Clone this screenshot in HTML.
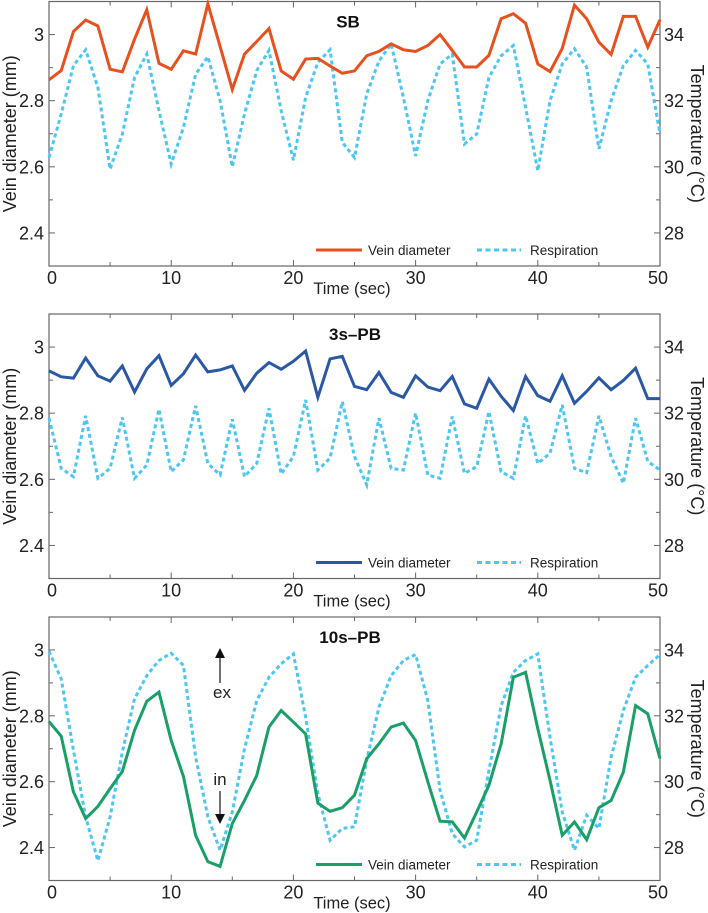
<!DOCTYPE html>
<html><head><meta charset="utf-8">
<style>
html,body{margin:0;padding:0;background:#fff;}
svg{display:block;font-family:"Liberation Sans",Arial,sans-serif;}
</style></head>
<body>
<svg id="chart" width="708" height="913" viewBox="0 0 708 913" xmlns="http://www.w3.org/2000/svg"></svg>
<script>
const times = Array.from({length:51},(_,i)=>i);
const xTickLabels = ["0","10","20","30","40","50"];
const yTickLabels = ["2.4","2.6","2.8","3"];
const tTickLabels = ["28","30","32","34"];
const panelTitles = ["SB","3s\u2013PB","10s\u2013PB"];
const veinSB = [2.863,2.891,3.009,3.044,3.026,2.895,2.887,2.986,3.075,2.913,2.895,2.951,2.941,3.093,2.964,2.834,2.941,2.979,3.018,2.890,2.865,2.926,2.928,2.905,2.883,2.890,2.936,2.949,2.972,2.954,2.949,2.967,3.000,2.952,2.902,2.902,2.937,3.048,3.063,3.034,2.911,2.888,2.958,3.089,3.048,2.977,2.940,3.055,3.055,2.962,3.045];
const respSB = [30.28,31.6,33.06,33.54,32.4,29.93,30.99,32.7,33.41,31.7,30.08,31.19,32.8,33.33,32.0,30.0,31.6,32.91,33.52,31.7,30.2,32.1,33.16,33.54,30.74,30.28,32.2,33.2,33.72,32.1,30.33,32.0,33.11,33.41,30.69,30.99,32.7,33.36,33.67,31.8,29.88,32.0,33.11,33.57,33.01,30.54,32.0,33.06,33.52,33.11,30.99];
const vein3s = [2.928,2.910,2.906,2.967,2.913,2.897,2.943,2.864,2.934,2.974,2.884,2.919,2.976,2.925,2.931,2.943,2.869,2.921,2.953,2.933,2.957,2.988,2.848,2.964,2.972,2.881,2.871,2.923,2.863,2.848,2.913,2.879,2.868,2.911,2.828,2.815,2.903,2.851,2.808,2.911,2.853,2.836,2.913,2.830,2.866,2.907,2.871,2.899,2.936,2.844,2.844];
const resp3s = [31.85,30.33,30.08,31.92,30.03,30.33,31.87,30.03,30.43,32.12,30.23,30.59,32.22,30.48,30.13,31.82,30.08,30.48,32.15,30.16,30.69,32.40,30.28,30.64,32.35,30.69,29.83,31.85,30.33,30.28,32.0,30.13,30.03,31.9,30.18,30.38,32.05,30.23,30.03,31.92,30.48,30.79,32.25,30.33,30.2,31.92,30.69,29.88,31.85,30.54,30.28];
const vein10s = [2.783,2.738,2.569,2.488,2.525,2.579,2.631,2.756,2.844,2.872,2.725,2.616,2.437,2.357,2.343,2.473,2.543,2.619,2.766,2.816,2.781,2.745,2.535,2.510,2.521,2.559,2.670,2.715,2.766,2.778,2.725,2.600,2.480,2.478,2.429,2.508,2.589,2.715,2.917,2.932,2.761,2.604,2.437,2.478,2.424,2.521,2.543,2.629,2.831,2.806,2.670];
const resp10s = [33.96,33.12,30.95,28.93,27.6,28.93,30.9,32.52,33.22,33.68,33.9,33.53,30.75,28.93,27.92,29.08,31.0,32.46,33.17,33.58,33.88,31.96,29.64,28.22,28.58,28.63,30.65,32.26,33.22,33.68,33.86,32.46,29.74,28.42,28.02,28.22,30.34,32.31,33.32,33.68,33.88,31.35,29.08,27.92,28.98,28.58,30.75,32.16,33.17,33.53,33.86];

const NS="http://www.w3.org/2000/svg";
const svg=document.getElementById('chart');
function mk(tag,attrs,parent){const e=document.createElementNS(NS,tag);for(const k in attrs)e.setAttribute(k,attrs[k]);(parent||svg).appendChild(e);return e;}
const L=49,R=660;
const xs=t=>L+(t/50)*(R-L);
const panels=[
 {top:1.5,bottom:266,vein:veinSB,resp:respSB,color:"#e8501e",key:"sb"},
 {top:314,bottom:578.5,vein:vein3s,resp:resp3s,color:"#2a58a4",key:"3s"},
 {top:617,bottom:880.5,vein:vein10s,resp:resp10s,color:"#1a9f68",key:"10s"}
];
panels.forEach((p,pi)=>{
  const g=mk('g',{});
  
  
  const ys=v=>p.bottom-(v-2.3)/0.8*(p.bottom-p.top);
  const yt=t=>ys(3+(t-34)/10);
  const fr=mk('rect',{x:L,y:p.top,width:R-L,height:p.bottom-p.top,fill:'none',stroke:'#666','stroke-width':1.2},g);
  
  
  for(let t=0;t<=50;t+=5){
    const len=t%10===0?6:4;
    mk('line',{x1:xs(t),x2:xs(t),y1:p.bottom,y2:p.bottom-len,stroke:'#666','stroke-width':1},g);
    mk('line',{x1:xs(t),x2:xs(t),y1:p.top,y2:p.top+len,stroke:'#666','stroke-width':1},g);
  }
  xTickLabels.forEach((lab,i)=>{
    const tx=mk('text',{x:xs(i*10)+(i==0?3:i==5?-2:0),y:p.bottom+18,'font-size':18,'text-anchor':'middle',fill:'#222'},g);
    tx.textContent=lab;
    
    
  });
  const xt=mk('text',{x:352,y:p.bottom+28,'font-size':16.5,'text-anchor':'middle',fill:'#222'},g);
  xt.textContent='Time (sec)';
  
  
  for(let v=2.4;v<=3.05;v+=0.1){
    const major=Math.abs((v*10)%2)<0.01||Math.abs((v*10)%2-2)<0.01;
    mk('line',{x1:L,x2:L+(major?6:4),y1:ys(v),y2:ys(v),stroke:'#666','stroke-width':1},g);
  }
  yTickLabels.forEach(lab=>{
    const v=parseFloat(lab);
    const tx=mk('text',{x:L-5,y:ys(v)+6.5,'font-size':18,'text-anchor':'end',fill:'#222'},g);
    tx.textContent=lab;
    
    
  });
  const yl=mk('text',{x:0,y:0,'font-size':18,'text-anchor':'middle',fill:'#222',transform:`translate(16,${(p.top+p.bottom)/2}) rotate(-90)`},g);
  yl.textContent='Vein diameter (mm)';
  
  
  for(let t=28;t<=34;t+=1){
    mk('line',{x1:R,x2:R-(t%2===0?6:4),y1:yt(t),y2:yt(t),stroke:'#666','stroke-width':1},g);
  }
  tTickLabels.forEach(lab=>{
    const tx=mk('text',{x:R+4,y:yt(parseFloat(lab))+6.5,'font-size':18,fill:'#222'},g);
    tx.textContent=lab;
    
    
  });
  const rl=mk('text',{x:0,y:0,'font-size':18,'text-anchor':'middle',fill:'#222',transform:`translate(691,${(p.top+p.bottom)/2}) rotate(90)`},g);
  rl.textContent='Temperature (\u00B0C)';
  
  
  const rp=mk('polyline',{points:times.map((t,i)=>xs(t)+','+yt(p.resp[i])).join(' '),fill:'none',stroke:'#4cc6f2','stroke-width':3,'stroke-dasharray':'4 3'},g);
  
  
  const vp=mk('polyline',{points:times.map((t,i)=>xs(t)+','+ys(p.vein[i])).join(' '),fill:'none',stroke:p.color,'stroke-width':3,'stroke-linejoin':'miter'},g);
  
  
  const ti=mk('text',{x:pi==0?348:pi==1?355:350,y:p.top+26,'font-size':17,'font-weight':'bold','text-anchor':'middle',fill:'#111'},g);
  ti.textContent=panelTitles[pi];
  
  
  const ly=p.bottom-16;
  const lg=mk('g',{},g);
  
  
  mk('line',{x1:316,x2:362,y1:ly,y2:ly,stroke:p.color,'stroke-width':3},lg);
  const lt1=mk('text',{x:368,y:ly+5,'font-size':13.5,fill:'#222'},lg);
  lt1.textContent='Vein diameter';
  
  
  mk('line',{x1:477,x2:521,y1:ly,y2:ly,stroke:'#4cc6f2','stroke-width':3,'stroke-dasharray':'5 3.5'},lg);
  const lt2=mk('text',{x:530,y:ly+5,'font-size':13.5,fill:'#222'},lg);
  lt2.textContent='Respiration';
  
  
});
const ag=mk('g',{});


mk('line',{x1:220,x2:220,y1:683,y2:656,stroke:'#111','stroke-width':1.2},ag);
mk('polygon',{points:'215,658 225,658 220,648',fill:'#111'},ag);
const ex=mk('text',{x:222,y:698,'font-size':17,'text-anchor':'middle',fill:'#222'},ag);
ex.textContent='ex';


const inn=mk('text',{x:220,y:785,'font-size':17,'text-anchor':'middle',fill:'#222'},ag);
inn.textContent='in';


mk('line',{x1:220,x2:220,y1:791,y2:816,stroke:'#111','stroke-width':1.2},ag);
mk('polygon',{points:'215,814 225,814 220,824',fill:'#111'},ag);
</script>
</body></html>
